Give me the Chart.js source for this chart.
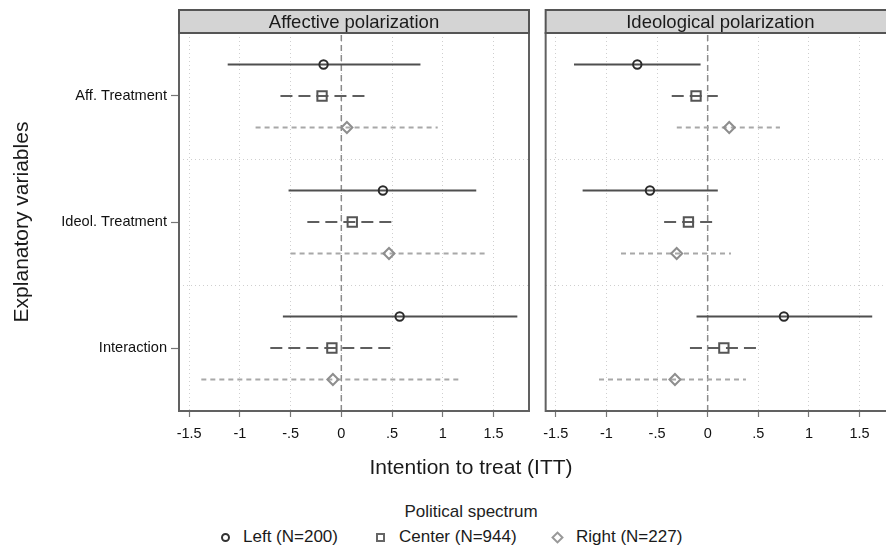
<!DOCTYPE html>
<html>
<head>
<meta charset="utf-8">
<script src="https://cdn.jsdelivr.net/npm/chart.js@4/dist/chart.umd.min.js"></script>
<style>
  html, body { margin: 0; padding: 0; background: #fff; }
  body { width: 886px; height: 552px; overflow: hidden; position: relative;
         font-family: "Liberation Sans", Arial, sans-serif; color: #1a1a1a; }
  .panel { position: absolute; top: 0; height: 460px; }
  #p1 { left: 0; width: 540px; }
  #p2 { left: 535px; width: 370px; }
  .xtitle { position: absolute; left: 271px; width: 400px; top: 455px; text-align: center; font-size: 21px; }
  .ltitle { position: absolute; left: 321px; width: 300px; top: 502px; text-align: center; font-size: 17px; color: #222; }
  .item { position: absolute; top: 526px; font-size: 17px; line-height: 22px; color: #1a1a1a; }
  .mk { position: absolute; box-sizing: border-box; }
</style>
</head>
<body>
<div class="panel" id="p1"><canvas id="c1"></canvas></div>
<div class="panel" id="p2"><canvas id="c2"></canvas></div>
<div class="xtitle">Intention to treat (ITT)</div>
<div class="ltitle">Political spectrum</div>
<div class="mk" style="left:221px;top:533px;width:9px;height:9px;border:2px solid #333;border-radius:50%"></div>
<div class="item" style="left:243px">Left (N=200)</div>
<div class="mk" style="left:376px;top:533px;width:9px;height:9px;border:2px solid #666"></div>
<div class="item" style="left:399px">Center (N=944)</div>
<div class="mk" style="left:553px;top:533px;width:9px;height:9px;border:2px solid #999;transform:rotate(45deg)"></div>
<div class="item" style="left:576px">Right (N=227)</div>
<script>
// Coefficient estimates with 95% intervals, by outcome panel and political group
const panelTitles = ['Affective polarization', 'Ideological polarization'];
const variables = ['Aff. Treatment', 'Ideol. Treatment', 'Interaction'];
const groups = ['Left (N=200)', 'Center (N=944)', 'Right (N=227)'];
const xTicks = [-1.5, -1, -0.5, 0, 0.5, 1, 1.5];

// Affective polarization
const affLeftEst = [-0.175, 0.41, 0.575];
const affLeftLo = [-1.12, -0.52, -0.576];
const affLeftHi = [0.78, 1.33, 1.735];
const affCenterEst = [-0.19, 0.108, -0.093];
const affCenterLo = [-0.60, -0.335, -0.70];
const affCenterHi = [0.23, 0.535, 0.516];
const affRightEst = [0.055, 0.47, -0.083];
const affRightLo = [-0.845, -0.50, -1.38];
const affRightHi = [0.95, 1.42, 1.19];

// Ideological polarization
const ideLeftEst = [-0.695, -0.57, 0.753];
const ideLeftLo = [-1.32, -1.235, -0.11];
const ideLeftHi = [-0.07, 0.10, 1.625];
const ideCenterEst = [-0.115, -0.19, 0.16];
const ideCenterLo = [-0.355, -0.43, -0.175];
const ideCenterHi = [0.10, 0.05, 0.49];
const ideRightEst = [0.213, -0.306, -0.323];
const ideRightLo = [-0.305, -0.856, -1.073];
const ideRightHi = [0.714, 0.23, 0.378];

const FONT = '"Liberation Sans", Arial, sans-serif';

// Visual style per political group
const groupStyle = [
  { offset: 0.25, line: '#4f4f4f', dash: [], marker: '#2b2b2b', point: 'circle', radius: 4.2 },
  { offset: 0, line: '#5e5e5e', dash: [12, 6], marker: '#555555', point: 'rect', radius: 6.6 },
  { offset: -0.25, line: '#a8a8a8', dash: [5, 4], marker: '#8e8e8e', point: 'rectRot', radius: 5.5 }
];

function rowY(i) { return 3 - i; }

function buildDatasets(series) {
  const ds = [];
  // vertical reference line at zero
  ds.push({
    type: 'line', data: [{ x: 0, y: 0.5 }, { x: 0, y: 3.5 }],
    borderColor: '#8a8a8a', borderWidth: 1.5, borderDash: [6, 4],
    pointRadius: 0, order: 20
  });
  series.forEach((s, g) => {
    const st = groupStyle[g];
    s.est.forEach((v, i) => {
      const y = rowY(i) + st.offset;
      ds.push({
        type: 'line', label: groups[g],
        data: [{ x: s.lo[i], y: y }, { x: s.hi[i], y: y }],
        borderColor: st.line, borderWidth: 2, borderDash: st.dash,
        borderCapStyle: 'butt', pointRadius: 0, order: 10
      });
    });
    ds.push({
      type: 'scatter', label: groups[g],
      data: s.est.map((v, i) => ({ x: v, y: rowY(i) + st.offset })),
      pointStyle: st.point, pointRadius: st.radius, borderWidth: 2,
      borderColor: st.marker, backgroundColor: 'rgba(0,0,0,0)', order: 0
    });
  });
  return ds;
}

// Grey strip title above the plot area plus the frame around it
const framePlugin = {
  id: 'frame',
  afterDraw(chart, args, opts) {
    const { ctx, chartArea: a } = chart;
    ctx.save();
    ctx.lineWidth = 2;
    ctx.strokeStyle = '#616161';
    ctx.strokeRect(a.left, a.top, a.right - a.left, a.bottom - a.top);
    ctx.fillStyle = '#d4d4d4';
    ctx.fillRect(a.left, 10, a.right - a.left, a.top - 10);
    ctx.strokeStyle = '#555555';
    ctx.strokeRect(a.left, 10, a.right - a.left, a.top - 10);
    ctx.fillStyle = '#1a1a1a';
    ctx.font = '18.5px ' + FONT;
    ctx.textAlign = 'center';
    ctx.textBaseline = 'middle';
    ctx.fillText(opts.text, (a.left + a.right) / 2, (10 + a.top) / 2 + 1);
    ctx.restore();
  }
};

function fmtTick(v) {
  if (v === 0) return '0';
  let s = String(Math.abs(v)).replace(/^0\./, '.');
  return (v < 0 ? '-' : '') + s;
}

const isHalf = v => Math.abs(v - Math.round(v)) > 0.1;

function makeChart(id, title, series, showY) {
  return new Chart(document.getElementById(id), {
    data: { datasets: buildDatasets(series) },
    plugins: [framePlugin],
    options: {
      responsive: true, maintainAspectRatio: false, animation: false,
      layout: { padding: { top: 33, right: showY ? 11 : 10, left: showY ? 0 : 10, bottom: 0 } },
      plugins: { legend: { display: false }, tooltip: { enabled: false }, frame: { text: title } },
      scales: {
        x: {
          type: 'linear', min: -1.6, max: 1.85,
          afterBuildTicks: s => { s.ticks = xTicks.map(v => ({ value: v })); },
          afterFit: s => { s.height = 49; },
          ticks: { callback: v => fmtTick(v), color: '#111', font: { family: FONT, size: 14.5 }, padding: 8, maxRotation: 0 },
          grid: { color: '#cfcfcf', lineWidth: 1, tickLength: 6, tickColor: '#777', tickWidth: 1.2, tickBorderDash: [] },
          border: { display: false, dash: [1, 3] }
        },
        y: {
          type: 'linear', min: 0.5, max: 3.5,
          afterBuildTicks: s => { s.ticks = [1, 1.5, 2, 2.5, 3].map(v => ({ value: v })); },
          afterFit: s => { s.width = showY ? 179 : 0; },
          ticks: {
            display: showY,
            callback: v => isHalf(v) ? '' : variables[3 - Math.round(v)],
            color: '#111', font: { family: FONT, size: 14.6 }, padding: 4
          },
          grid: {
            drawTicks: showY, tickLength: 8, tickWidth: 1.2, tickBorderDash: [],
            color: c => (c.tick && isHalf(c.tick.value)) ? '#cfcfcf' : 'rgba(0,0,0,0)',
            tickColor: c => (c.tick && isHalf(c.tick.value)) ? 'rgba(0,0,0,0)' : '#777'
          },
          border: { display: false, dash: [1, 3] },
          title: {
            display: showY, text: 'Explanatory variables', color: '#1a1a1a',
            font: { family: FONT, size: 21 }, padding: { top: 10, bottom: 0 }
          }
        }
      }
    }
  });
}

makeChart('c1', panelTitles[0], [
  { est: affLeftEst, lo: affLeftLo, hi: affLeftHi },
  { est: affCenterEst, lo: affCenterLo, hi: affCenterHi },
  { est: affRightEst, lo: affRightLo, hi: affRightHi }
], true);

makeChart('c2', panelTitles[1], [
  { est: ideLeftEst, lo: ideLeftLo, hi: ideLeftHi },
  { est: ideCenterEst, lo: ideCenterLo, hi: ideCenterHi },
  { est: ideRightEst, lo: ideRightLo, hi: ideRightHi }
], false);
</script>
</body>
</html>
